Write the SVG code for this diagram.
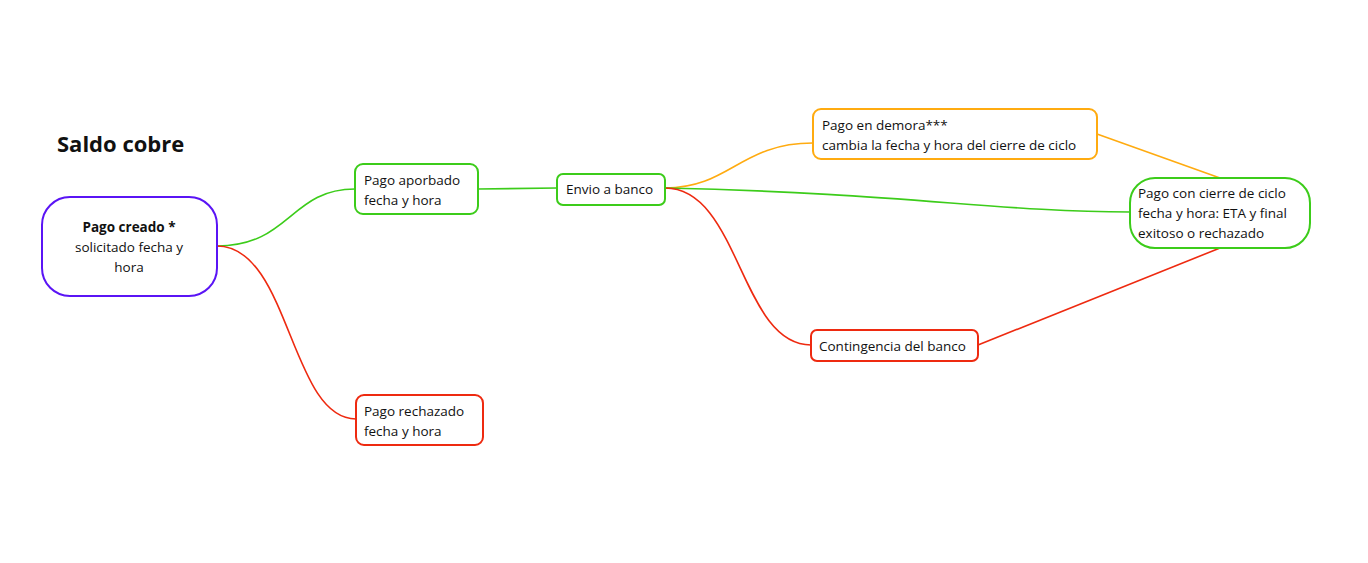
<svg xmlns="http://www.w3.org/2000/svg" width="1368" height="563" viewBox="0 0 1368 563">
<style>
text{font-family:"Open Sans","Noto Sans",sans-serif;font-size:13.5px;fill:#111}
.n{fill:#fff;stroke-width:2}
.g{stroke:#3ccc1a}.r{stroke:#ee2a10}.o{stroke:#ffab10}.p{stroke:#5a14f5}
.c path{fill:none;stroke-width:1.6}
</style>
<rect width="1368" height="563" fill="#fff"/>
<text x="57" y="152" style="font-size:22px;font-weight:bold">Saldo cobre</text>
<g class="c">
<path class="g" d="M217,246 C290,246 290,189 355,189"/>
<path class="r" d="M217,246 C290,246 290,419 356,419"/>
<path class="g" d="M478,189 L557,188"/>
<path class="o" d="M665,188 C730,188 740,143 813,143"/>
<path class="g" d="M665,188 C900,193 1000,212 1130,212"/>
<path class="r" d="M665,188 C740,188 740,345 811,345"/>
<path class="o" d="M1097,134 L1220,178"/>
<path class="r" d="M978,345 L1220,248"/>
</g>
<g id="creado"><rect class="n p" x="42" y="197" width="175" height="99" rx="28"/>
<text x="129" y="232" text-anchor="middle" font-weight="bold">Pago creado *</text>
<text x="129" y="252" text-anchor="middle">solicitado fecha y</text>
<text x="129" y="272" text-anchor="middle">hora</text></g>
<g id="aprobado"><rect class="n g" x="355" y="164" width="123" height="50" rx="8"/>
<text x="364" y="185">Pago aporbado</text><text x="364" y="205">fecha y hora</text></g>
<g id="envio"><rect class="n g" x="557" y="174" width="108" height="31" rx="6"/>
<text x="566" y="194">Envio a banco</text></g>
<g id="demora"><rect class="n o" x="813" y="109" width="284" height="50" rx="8"/>
<text x="822" y="130">Pago en demora***</text><text x="822" y="150">cambia la fecha y hora del cierre de ciclo</text></g>
<g id="cierre"><rect class="n g" x="1130" y="178" width="180" height="70" rx="25"/>
<text x="1138" y="198">Pago con cierre de ciclo</text><text x="1138" y="218">fecha y hora: ETA y final</text><text x="1138" y="238">exitoso o rechazado</text></g>
<g id="contingencia"><rect class="n r" x="811" y="330" width="167" height="31" rx="6"/>
<text x="819" y="351">Contingencia del banco</text></g>
<g id="rechazado"><rect class="n r" x="356" y="395" width="127" height="50" rx="8"/>
<text x="364" y="416">Pago rechazado</text><text x="364" y="436">fecha y hora</text></g>
</svg>
